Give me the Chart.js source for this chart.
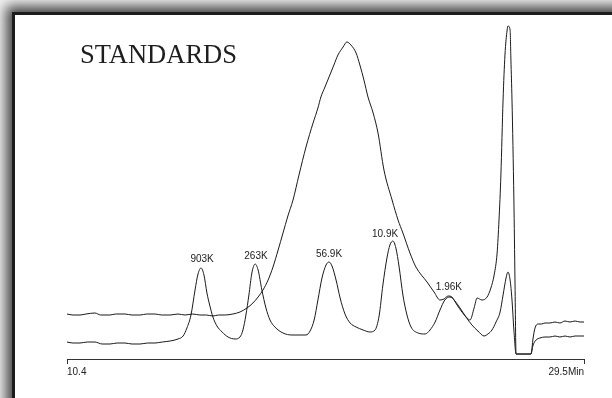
<!DOCTYPE html>
<html>
<head>
<meta charset="utf-8">
<script src="https://cdn.jsdelivr.net/npm/chart.js@4/dist/chart.umd.min.js"></script>
<style>
  html, body { margin: 0; padding: 0; }
  body { width: 612px; height: 398px; overflow: hidden; position: relative; background: #f2f2f2; }
  #panel { position: absolute; left: 12px; top: 12px; width: 700px; height: 500px; background: #fff;
           border-left: 3px solid #1c1c1c; border-top: 3px solid #1c1c1c;
           box-shadow: 0 0 12px 6px rgba(0,0,0,0.72); }
  #c { position: absolute; left: 0; top: 0; }
</style>
</head>
<body>
<div id="panel"></div>
<canvas id="c" width="612" height="398"></canvas>
<script>
// ---- data (time in min, detector response in arbitrary units) ----
const titleText = 'STANDARDS';

const standardsTime = [10.40,10.62,10.88,11.15,11.43,11.70,11.99,12.25,12.54,12.80,13.10,13.38,13.65,13.92,14.21,14.50,14.69,14.83,14.98,15.13,15.24,15.35,15.46,15.57,15.68,15.79,15.94,16.13,16.35,16.61,16.79,16.90,17.01,17.12,17.23,17.35,17.46,17.60,17.75,17.90,18.08,18.38,18.71,19.01,19.23,19.38,19.53,19.67,19.82,19.97,20.08,20.19,20.34,20.49,20.67,20.86,21.08,21.34,21.59,21.78,21.93,22.07,22.22,22.33,22.44,22.55,22.67,22.81,22.96,23.11,23.37,23.63,23.81,24.00,24.18,24.36,24.55,24.73,24.92,25.14,25.36,25.58,25.81,25.95,26.10,26.25,26.40,26.51,26.62,26.69,26.77,26.84,26.91,26.99,27.54,27.62,27.73,27.87,28.06,28.24,28.43,28.61,28.80,28.98,29.17,29.35,29.50];
const standardsSignal = [17,16,16,17,17,15,15,16,16,15,15,16,16,17,18,20,23,31,44,69,85,91,84,66,53,42,33,27,22,20,22,29,44,64,86,95,89,69,51,39,32,26,24,24,24,28,39,59,81,94,97,93,79,61,45,36,32,29,27,29,43,74,101,114,118,111,92,64,44,32,26,25,29,37,49,59,62,58,51,42,34,28,23,25,29,37,47,64,81,87,79,59,29,5,5,14,19,21,22,22,23,22,23,22,23,23,23];

const sampleTime = [10.40,10.62,10.88,11.10,11.43,11.65,11.99,12.20,12.54,12.80,13.10,13.35,13.65,13.90,14.21,14.50,14.76,15.05,15.31,15.55,15.79,16.00,16.24,16.53,16.79,17.05,17.27,17.46,17.64,17.83,18.01,18.20,18.38,18.56,18.75,18.97,19.23,19.49,19.67,19.78,19.93,20.08,20.26,20.41,20.60,20.74,20.89,21.08,21.22,21.37,21.52,21.71,21.89,22.11,22.41,22.63,22.81,23.07,23.29,23.70,23.96,24.18,24.33,24.48,24.62,24.81,24.99,25.18,25.29,25.44,25.55,25.73,25.92,26.06,26.18,26.29,26.36,26.43,26.51,26.58,26.66,26.69,26.77,26.80,26.84,26.91,26.95,26.99,27.54,27.62,27.69,27.80,27.93,28.06,28.24,28.43,28.61,28.80,28.98,29.17,29.35,29.50];
const sampleSignal = [45,44,44,45,46,44,44,45,45,44,44,45,45,44,44,45,44,45,44,44,43,44,44,45,47,51,56,62,69,79,92,109,126,143,159,184,212,236,251,262,272,282,294,304,312,317,314,306,294,279,262,246,226,189,159,139,126,106,92,77,67,59,60,63,62,54,47,41,39,51,61,59,62,71,84,106,139,184,259,304,329,333,329,299,259,159,79,5,5,21,31,35,35,36,36,37,36,38,37,38,37,37];

const peakLabels = ['903K','263K','56.9K','10.9K','1.96K'];
const peakLabelTime = [15.39,17.38,20.08,22.15,24.51];
const peakLabelHeight = [100,103,105,125,72];

const axisTickValues = [10.4, 29.5];
const axisTickLabels = ['10.4', '29.5Min'];

const toXY = (ts, vs) => ts.map((t, i) => ({ x: t, y: vs[i] }));

const annotations = {
  id: 'annotations',
  afterDatasetsDraw(chart) {
    const { ctx, scales: { x, y } } = chart;
    ctx.save();
    ctx.fillStyle = '#222';
    ctx.font = '10px "Liberation Sans", Arial, sans-serif';
    ctx.textAlign = 'center';
    ctx.textBaseline = 'middle';
    peakLabels.forEach((lab, i) => {
      ctx.fillText(lab, x.getPixelForValue(peakLabelTime[i]), y.getPixelForValue(peakLabelHeight[i]));
    });
    ctx.font = '28px "Liberation Serif", "Times New Roman", serif';
    ctx.textAlign = 'left';
    ctx.textBaseline = 'alphabetic';
    ctx.fillStyle = '#1e1e1e';
    ctx.fillText(titleText, 80, 63, 157);
    ctx.restore();
  }
};

new Chart(document.getElementById('c'), {
  type: 'line',
  data: {
    datasets: [
      { label: 'Sample', data: toXY(sampleTime, sampleSignal), borderColor: '#1a1a1a', borderWidth: 1,
        pointRadius: 0, cubicInterpolationMode: 'monotone', fill: false },
      { label: 'Standards', data: toXY(standardsTime, standardsSignal), borderColor: '#1a1a1a', borderWidth: 1,
        pointRadius: 0, cubicInterpolationMode: 'monotone', fill: false }
    ]
  },
  options: {
    responsive: false,
    animation: false,
    events: [],
    layout: { padding: { left: 67, right: 28, top: 19, bottom: 0 } },
    plugins: { legend: { display: false }, title: { display: false }, tooltip: { enabled: false } },
    scales: {
      x: {
        type: 'linear', min: 10.4, max: 29.5,
        afterBuildTicks: (s) => { s.ticks = axisTickValues.map(v => ({ value: v })); },
        afterFit: (s) => { s.height = 39; },
        ticks: {
          autoSkip: false, maxRotation: 0, align: 'inner', padding: 2, color: '#222',
          font: { family: '"Liberation Sans", Arial, sans-serif', size: 10 },
          callback: (v) => { const i = axisTickValues.indexOf(v); return i >= 0 ? axisTickLabels[i] : ''; }
        },
        grid: { display: true, drawOnChartArea: false, drawTicks: true, tickLength: 5, color: '#333', lineWidth: 1 },
        border: { display: true, color: '#333', width: 1 }
      },
      y: { display: false, min: 0, max: 340 }
    }
  },
  plugins: [annotations]
});
</script>
</body>
</html>
